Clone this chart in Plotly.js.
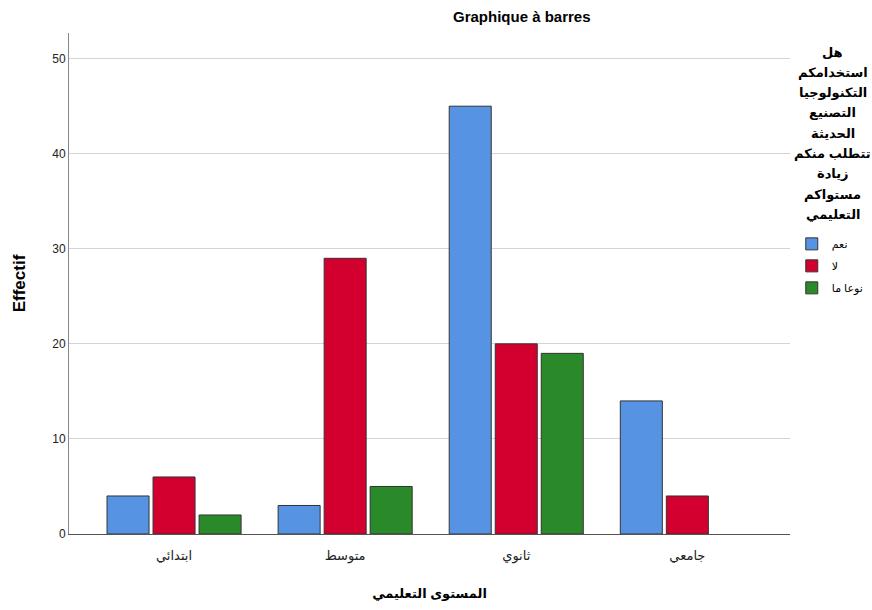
<!DOCTYPE html>
<html>
<head>
<meta charset="utf-8">
<script src="https://cdn.plot.ly/plotly-3.0.1.min.js"></script>
<style>body{margin:0;padding:0;background:#fff;}#chart{width:872px;height:610px;}</style>
</head>
<body>
<div id="chart"></div>
<script>
const categories = ["ابتدائي", "متوسط", "ثانوي", "جامعي"];
const seriesNames = ["نعم", "لا", "نوعا ما"];
const yesValues = [4, 3, 45, 14];
const noValues = [6, 29, 20, 4];
const somewhatValues = [2, 5, 19, null];
const seriesColors = ["#5694E3", "#D3002F", "#2A8A2A"];
const legendTitleLines = ["هل", "استخدامكم", "التكنولوجيا", "التصنيع", "الحديثة", "تتطلب منكم", "زيادة", "مستواكم", "التعليمي"];

const seriesValues = [yesValues, noValues, somewhatValues];
const traces = seriesValues.map((vals, i) => ({
  type: "bar",
  x: categories,
  y: vals,
  name: seriesNames[i],
  legendgroup: "g" + i,
  marker: {color: seriesColors[i], line: {color: "#333333", width: 1}},
  hoverinfo: "x+y+name"
}));

// legend title lines placed as annotations in the right margin
const plotTop = 33, plotH = 501;
const titleAnnotations = legendTitleLines.map((line, i) => ({
  text: "<b>" + line + "</b>",
  xref: "paper", yref: "paper",
  x: 1.0596, xanchor: "center",
  y: 1 - (52 + i * 20.3 - plotTop) / plotH, yanchor: "middle",
  showarrow: false,
  font: {size: 13, color: "#000"}
}));

const layout = {
  width: 872, height: 610,
  margin: {l: 69, r: 82, t: 33, b: 76, autoexpand: false},
  paper_bgcolor: "#ffffff", plot_bgcolor: "#ffffff",
  font: {family: "Liberation Sans, Arial, DejaVu Sans, sans-serif", color: "#000"},
  title: {text: "<b>Graphique à barres</b>", font: {size: 15, color: "#000"}, x: 0.628, xref: "paper", xanchor: "center", y: 0.972, yref: "container", yanchor: "middle"},
  barmode: "group",
  bargap: 0.193,
  bargroupgap: 0.087,
  xaxis: {
    type: "category",
    range: [-0.614, 3.60],
    showgrid: false,
    showline: true, linecolor: "#555555", linewidth: 1,
    ticks: "", tickfont: {size: 13, color: "#222"},
    ticklabelstandoff: 9,
    title: {text: "<b>المستوى التعليمي</b>", font: {size: 13, color: "#000"}, standoff: 26},
    zeroline: false
  },
  yaxis: {
    range: [0, 52.7],
    tickvals: [0, 10, 20, 30, 40, 50],
    showgrid: true, gridcolor: "#d4d4d4", gridwidth: 1,
    showline: true, linecolor: "#888888", linewidth: 1,
    zeroline: false,
    ticks: "", tickfont: {size: 12, color: "#222"},
    title: {text: "<b>Effectif</b>", font: {size: 17, color: "#000"}, standoff: 22}
  },
  legend: {
    xref: "container", yref: "container",
    x: 0.908, xanchor: "left", y: 0.624, yanchor: "top",
    font: {size: 11, color: "#000"},
    itemwidth: 30,
    tracegroupgap: 3,
    bgcolor: "rgba(0,0,0,0)"
  },
  annotations: titleAnnotations,
  showlegend: true
};

Plotly.newPlot("chart", traces, layout, {displayModeBar: false, staticPlot: true});
</script>
</body>
</html>
